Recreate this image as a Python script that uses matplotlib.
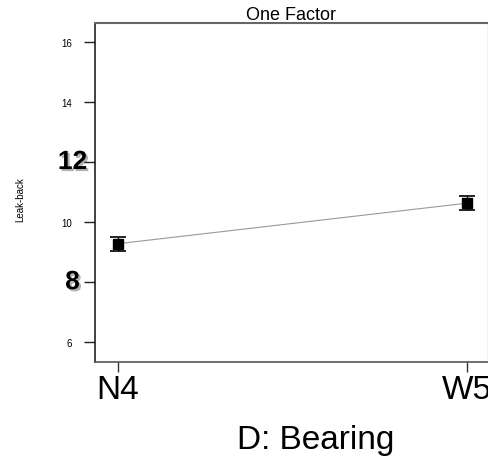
import matplotlib
matplotlib.use("Agg")
import matplotlib.pyplot as plt
import matplotlib.patheffects as pe
from matplotlib.transforms import blended_transform_factory, ScaledTranslation

plt.rcParams['font.family'] = ['Liberation Sans', 'DejaVu Sans']

# Factor levels and responses
levels = ["N4", "W5"]
means = [9.28, 10.63]
errors = [0.23, 0.23]
yticks = [6, 8, 10, 12, 14, 16]
ytick_labels = ["6", "8", "10", "12", "14", "16"]
emphasized = ["8", "12"]

W, H = 489, 464
fig = plt.figure(figsize=(W / 100, H / 100), dpi=100)
ax = fig.add_axes([95 / W, (H - 362.7) / H, (488 - 95) / W, (362.7 - 24) / H])

x = list(range(len(levels)))
ax.plot(x, means, color="#9a9a9a", lw=0.8, zorder=2)
ax.errorbar(x, means, yerr=errors, fmt="s", color="black", ms=7,
            ecolor="black", elinewidth=1.0, capsize=6, capthick=1.2, zorder=3)

ax.set_xlim(-0.066, 1.06)
ax.set_ylim(5.35, 16.63)

ax.set_xticks(x)
ax.set_xticklabels(levels, fontsize=24)
ax.tick_params(axis="x", length=7.5, width=1, pad=1, color="#333333")

ax.set_yticks(yticks)
ax.set_yticklabels([("" if t in emphasized else t) for t in ytick_labels], fontsize=7)
ax.tick_params(axis="y", length=8, width=1, pad=8.3, color="#222222")

# Emphasized y tick labels with a drop shadow
trans = blended_transform_factory(ax.transAxes, ax.transData) + \
    ScaledTranslation(-22.5 / 100, 0, fig.dpi_scale_trans)
for t, lab in zip(yticks, ytick_labels):
    if lab in emphasized:
        ax.text(0, t, lab, transform=trans, ha="center", va="center",
                fontsize=19, fontweight="bold", color="black",
                path_effects=[pe.SimplePatchShadow(offset=(1.5, -1.5), alpha=0.3),
                              pe.Normal()])

ax.spines["left"].set_color("#222222")
ax.spines["left"].set_linewidth(1.2)
ax.spines["bottom"].set_color("#555555")
ax.spines["bottom"].set_linewidth(1.2)
ax.spines["top"].set_color("#666666")
ax.spines["top"].set_linewidth(1.5)
ax.spines["right"].set_color("#cccccc")
ax.spines["right"].set_linewidth(1.0)

ax.set_title("One Factor", fontsize=13, pad=2)
fig.text(20 / W, 1 - 200 / H, "Leak-back", rotation=90, fontsize=7,
         ha="center", va="center")
fig.text(316 / W, 1 - 441 / H, "D: Bearing", fontsize=24, ha="center", va="center")

fig.savefig("out.png", dpi=100)
